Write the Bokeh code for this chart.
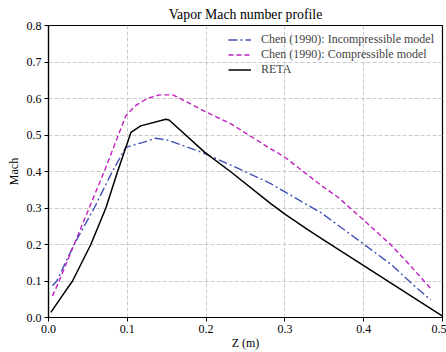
from bokeh.plotting import figure
from bokeh.models import Legend, LegendItem, FixedTicker, PrintfTickFormatter
from bokeh.embed import file_html
from bokeh.resources import INLINE

# ---- data ----
z_incomp = [0.005, 0.0105, 0.0325, 0.058, 0.081, 0.098, 0.12, 0.136, 0.151, 0.194,
            0.232, 0.282, 0.3, 0.346, 0.4, 0.435, 0.46, 0.485]
m_incomp = [0.087, 0.100, 0.200, 0.300, 0.400, 0.466, 0.480, 0.491, 0.486, 0.453,
            0.417, 0.367, 0.344, 0.287, 0.201, 0.145, 0.095, 0.048]

z_comp = [0.005, 0.0135, 0.0325, 0.0516, 0.0707, 0.081, 0.098, 0.11, 0.125, 0.141,
          0.158, 0.2, 0.232, 0.282, 0.3, 0.346, 0.367, 0.4, 0.435, 0.46, 0.486]
m_comp = [0.059, 0.100, 0.200, 0.300, 0.400, 0.457, 0.552, 0.580, 0.600, 0.610,
          0.610, 0.563, 0.530, 0.462, 0.439, 0.362, 0.330, 0.267, 0.198, 0.140, 0.077]

z_reta = [0.003, 0.016, 0.0305, 0.0537, 0.0728, 0.0877, 0.094, 0.1046, 0.117, 0.149,
          0.153, 0.198, 0.232, 0.282, 0.3, 0.329, 0.346, 0.4, 0.5]
m_reta = [0.014, 0.055, 0.100, 0.200, 0.300, 0.400, 0.440, 0.507, 0.525, 0.543,
          0.541, 0.453, 0.398, 0.312, 0.283, 0.241, 0.217, 0.142, 0.004]

x_ticks = [0.0, 0.1, 0.2, 0.3, 0.4, 0.5]
y_ticks = [0.0, 0.1, 0.2, 0.3, 0.4, 0.5, 0.6, 0.7, 0.8]

labels = ["Chen (1990): Incompressible model",
          "Chen (1990): Compressible model",
          "RETA"]
title_text = "Vapor Mach number profile"
x_label = "Z (m)"
y_label = "Mach"

FONT = "Liberation Serif"

p = figure(width=446, height=352, x_range=(0.0, 0.5), y_range=(0.0, 0.8),
           output_backend="svg", toolbar_location=None, title=title_text,
           min_border_left=48, min_border_right=4, min_border_top=24, min_border_bottom=34)

p.title.align = "center"
p.title.text_font = FONT
p.title.text_font_size = "13.8px"
p.title.text_font_style = "normal"
p.title.text_color = "black"
p.title.standoff = 8

p.outline_line_color = "black"
p.outline_line_width = 1.2
p.background_fill_color = "white"

# grid
for g in (p.xgrid, p.ygrid):
    g.grid_line_color = "#c4c4c4"
    g.grid_line_dash = "4 2"
    g.grid_line_width = 0.9
p.xgrid.ticker = FixedTicker(ticks=x_ticks)
p.ygrid.ticker = FixedTicker(ticks=y_ticks)

# axes
for ax, ticks in ((p.xaxis, x_ticks), (p.yaxis, y_ticks)):
    ax.ticker = FixedTicker(ticks=ticks)
    ax.formatter = PrintfTickFormatter(format="%.1f")
    ax.major_tick_out = 4
    ax.major_tick_in = 0
    ax.minor_tick_line_color = None
    ax.axis_line_width = 1.2
    ax.major_tick_line_width = 1
    ax.major_label_text_font = FONT
    ax.major_label_text_font_size = "12px"
    ax.major_label_text_color = "black"
    ax.axis_label_text_font = FONT
    ax.axis_label_text_font_size = "12px"
    ax.axis_label_text_font_style = "normal"
    ax.axis_label_text_color = "black"
    ax.major_label_standoff = 3
    ax.axis_label_standoff = 0

p.yaxis.axis_label_standoff = 3
p.xaxis.axis_label = x_label
p.yaxis.axis_label = y_label

r1 = p.line(z_incomp, m_incomp, line_color="#3F51B5", line_width=1.4, line_dash="9 3 2 3")
r2 = p.line(z_comp, m_comp, line_color="#BF1FBF", line_width=1.4, line_dash="5 3")
r3 = p.line(z_reta, m_reta, line_color="black", line_width=1.5)

legend = Legend(items=[LegendItem(label=labels[0], renderers=[r1]),
                       LegendItem(label=labels[1], renderers=[r2]),
                       LegendItem(label=labels[2], renderers=[r3])],
                location=(175, 235), margin=0, padding=5, spacing=0,
                label_standoff=10, glyph_width=23, glyph_height=15, label_height=15,
                label_text_font=FONT, label_text_font_size="12px",
                background_fill_alpha=0, border_line_alpha=0)
p.add_layout(legend, "center")

open("out.html", "w").write(file_html(p, INLINE))
